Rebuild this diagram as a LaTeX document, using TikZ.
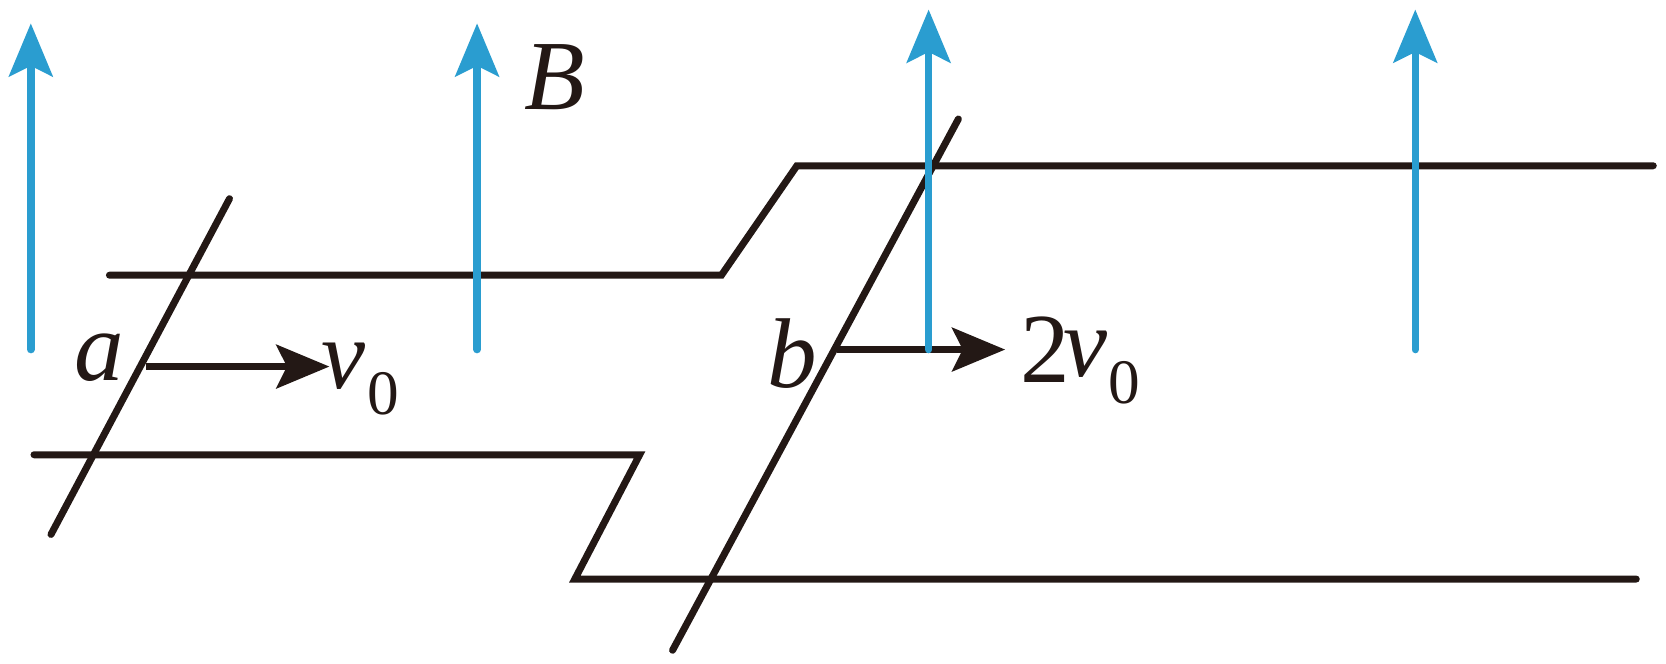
\documentclass[tikz,border=0pt]{standalone}
\usepackage{fontspec}
\setmainfont{Liberation Serif}
\usetikzlibrary{arrows.meta}

\definecolor{railcolor}{RGB}{35,24,21}
\definecolor{fieldcolor}{RGB}{42,157,208}

\tikzset{
	rail/.style={color=railcolor,line width=0.07cm,line cap=round,line join=miter},
	field/.style={color=fieldcolor,line width=0.075cm,line cap=round,-{Stealth[length=0.53cm,width=0.436cm,inset=0.106cm]}},
	speed/.style={color=railcolor,line width=0.07cm,-{Stealth[length=0.53cm,width=0.436cm,inset=0.106cm]}},
	symb/.style={text=railcolor,inner sep=0pt,anchor=base west,font=\fontsize{28.2}{32}\selectfont\itshape},
	digit/.style={text=railcolor,inner sep=0pt,anchor=base west,font=\fontsize{18}{20}\selectfont}
}

\begin{document}
\begin{tikzpicture}[x=0.010625cm,y=-0.010625cm]

\useasboundingbox (0,0) rectangle (1568,624);

% rails
\draw[rail] (103,259)--(679,259)--(750,156)--(1556,156);
\draw[rail] (32,428)--(602,428)--(541,545)--(1540,545);

% rods
\draw[rail] (48,503)--(216,187);
\draw[rail] (633,612)--(902,112);

% velocities
\draw[speed] (137,345)--(310,345);
\draw[speed] (788,329)--(946,329);

% field lines
\foreach \xcoord/\ytop in {29/22,449/22,874/9,1332/9} {
	\draw[field] (\xcoord,329)--(\xcoord,\ytop);
}

\node[symb] (labelB) at (493,103) {B};
\node[symb] (labela) at (69,358) {a};
\node[symb] (labelb) at (722,365) {b};
\node[symb] (labelv) at (302,366) {v};
\node[digit] (labelzero) at (345,390) {0};
\node[symb,font=\fontsize{28.2}{32}\selectfont] (labeltwo) at (960,360) {2};
\node[symb] (labelvv) at (1000,354) {v};
\node[digit] (labelzerob) at (1043,380) {0};

\end{tikzpicture}
\end{document}
